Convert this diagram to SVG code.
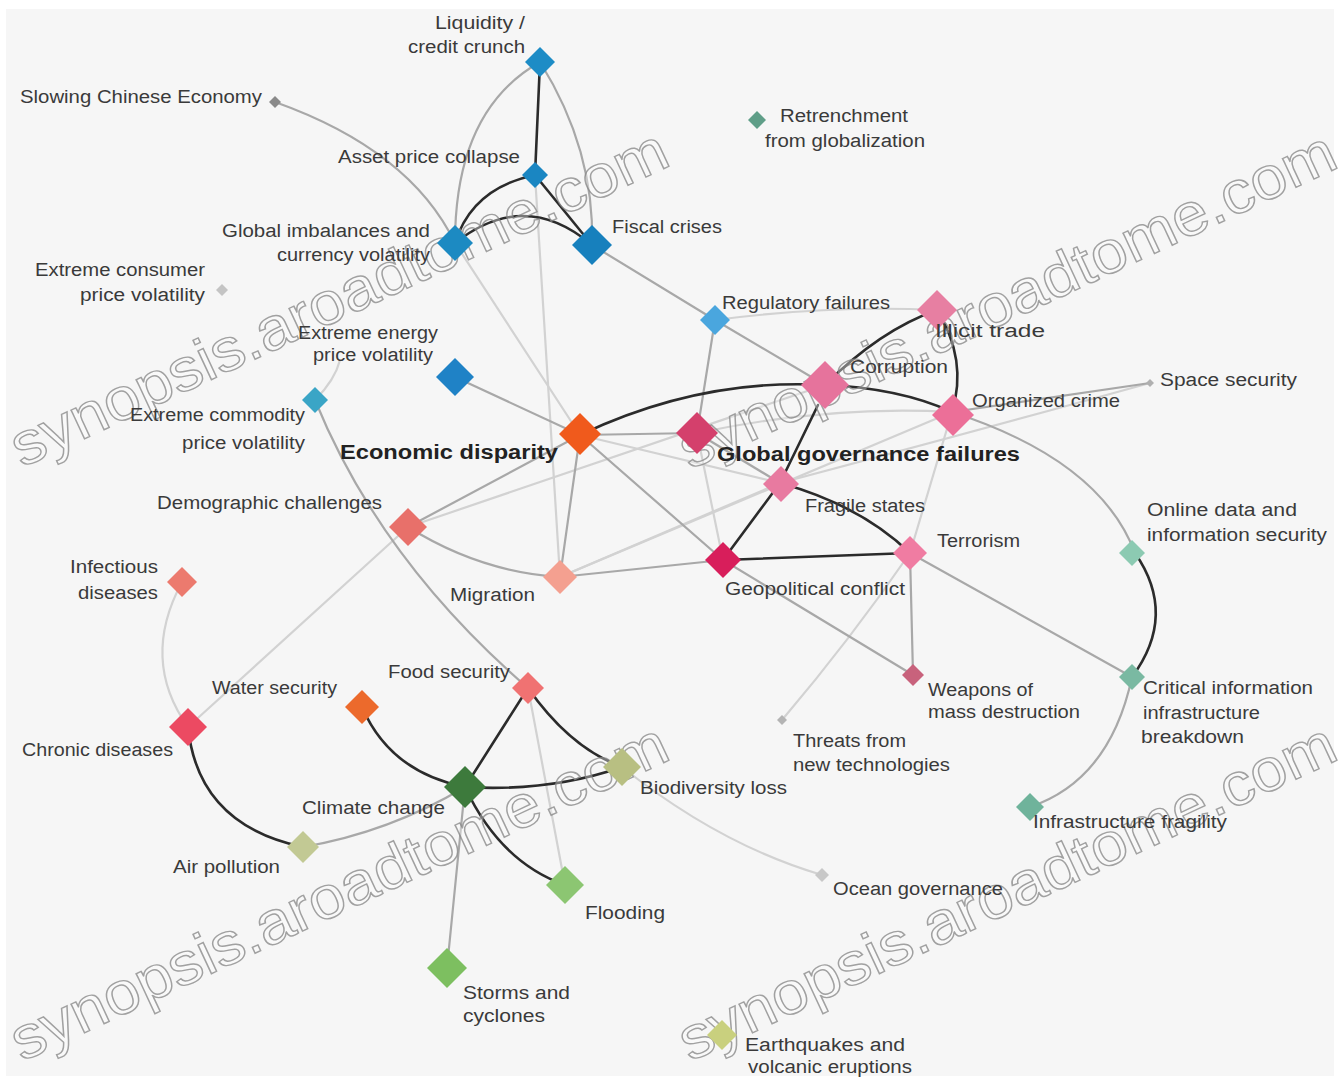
<svg xmlns="http://www.w3.org/2000/svg" xmlns:xlink="http://www.w3.org/1999/xlink" width="1339" height="1078" viewBox="0 0 1339 1078">
<defs>
<path id="d" d="M0,-1 L1,0 L0,1 L-1,0Z"/>
<style>
.lbl{font-family:"Liberation Sans",Arial,sans-serif;font-size:18px;fill:#3a3a3a}
.big{font-family:"Liberation Sans",Arial,sans-serif;font-size:20px;font-weight:bold;fill:#222}
.wm{font-family:"Liberation Sans",Arial,sans-serif;font-size:60px;fill:#ffffff;fill-opacity:.45;stroke:#8c8c8c;stroke-width:1.4;opacity:.8}
.e{fill:none;stroke-linecap:round}
.s{stroke:#2b2b2b;stroke-width:2.6}
.m{stroke:#a8a8a8;stroke-width:2.2}
.l{stroke:#d2d2d2;stroke-width:2.2}
</style>
</defs>
<rect x="0" y="0" width="1339" height="1078" fill="#ffffff"/>
<rect x="6" y="9" width="1328" height="1067" fill="#f6f6f6"/>

<g id="connectors" class="e">
<!-- light -->
<path class="l" d="M455,243 L580,435"/>
<path class="l" d="M535,175 L560,577"/>
<path class="l" d="M715,320 Q830,305 937,310"/>
<path class="l" d="M580,435 L780,483"/>
<path class="l" d="M560,577 L780,483"/>
<path class="l" d="M560,577 L952,412"/>
<path class="l" d="M408,527 L825,385"/>
<path class="l" d="M697,433 L723,560"/>
<path class="l" d="M697,433 Q830,405 952,412"/>
<path class="l" d="M780,483 Q980,430 1150,383"/>
<path class="l" d="M952,412 L910,553"/>
<path class="l" d="M910,553 Q850,640 782,720"/>
<path class="l" d="M182,582 Q140,660 188,727"/>
<path class="l" d="M188,727 L408,527"/>
<path class="l" d="M528,688 L565,885"/>
<path class="l" d="M622,767 Q720,845 822,875"/>
<path class="l" d="M315,400 Q335,380 340,360"/>
<!-- medium -->
<path class="m" d="M275,102 Q410,150 455,243"/>
<path class="m" d="M540,62 Q455,110 455,243"/>
<path class="m" d="M540,62 Q595,150 592,245"/>
<path class="m" d="M592,245 L715,320"/>
<path class="m" d="M455,377 L580,435"/>
<path class="m" d="M315,400 Q380,560 528,688"/>
<path class="m" d="M715,320 L697,433"/>
<path class="m" d="M715,320 L825,385"/>
<path class="m" d="M580,435 L697,433"/>
<path class="m" d="M580,435 L408,527"/>
<path class="m" d="M580,435 L560,577"/>
<path class="m" d="M580,435 L723,560"/>
<path class="m" d="M408,527 Q480,572 560,577"/>
<path class="m" d="M560,577 L723,560"/>
<path class="m" d="M697,433 L780,483"/>
<path class="m" d="M952,412 L1150,383"/>
<path class="m" d="M952,412 Q1100,460 1135,553"/>
<path class="m" d="M910,553 L1132,677"/>
<path class="m" d="M910,553 L913,675"/>
<path class="m" d="M723,560 L913,675"/>
<path class="m" d="M1132,677 Q1110,780 1030,807"/>
<path class="m" d="M465,787 Q390,832 303,847"/>
<path class="m" d="M465,787 L447,968"/>
<!-- strong -->
<path class="s" d="M540,62 L535,175"/>
<path class="s" d="M535,175 L592,245" stroke-width="3.6"/>
<path class="s" d="M455,243 Q472,188 535,175"/>
<path class="s" d="M455,243 Q525,188 592,245"/>
<path class="s" d="M580,435 Q700,378 825,385"/>
<path class="s" d="M825,385 Q900,388 952,412"/>
<path class="s" d="M825,385 Q880,330 937,310"/>
<path class="s" d="M937,310 Q968,360 952,412"/>
<path class="s" d="M818,405 L780,483"/>
<path class="s" d="M780,483 L723,560"/>
<path class="s" d="M780,483 Q860,505 910,553"/>
<path class="s" d="M723,560 L910,553"/>
<path class="s" d="M1135,553 Q1178,615 1132,677"/>
<path class="s" d="M528,688 L465,787"/>
<path class="s" d="M528,688 Q570,748 622,767"/>
<path class="s" d="M465,787 Q550,792 622,767"/>
<path class="s" d="M188,727 Q198,825 303,847"/>
<path class="s" d="M362,707 Q390,772 465,787"/>
<path class="s" d="M465,787 Q500,862 565,885" stroke-width="2"/>
</g>

<g id="watermark">
<text class="wm" x="22" y="468" textLength="718" lengthAdjust="spacingAndGlyphs" transform="rotate(-25 22 468)">synopsis.aroadtome.com</text>
<text class="wm" x="690" y="470" textLength="718" lengthAdjust="spacingAndGlyphs" transform="rotate(-25 690 470)">synopsis.aroadtome.com</text>
<text class="wm" x="22" y="1062" textLength="718" lengthAdjust="spacingAndGlyphs" transform="rotate(-25 22 1062)">synopsis.aroadtome.com</text>
<text class="wm" x="690" y="1062" textLength="718" lengthAdjust="spacingAndGlyphs" transform="rotate(-25 690 1062)">synopsis.aroadtome.com</text>
</g>

<g id="n-liquidity"><use href="#d" transform="translate(540,62) scale(15)" fill="#1d8cc6"/><text class="lbl" x="435" y="29" textLength="90" lengthAdjust="spacingAndGlyphs">Liquidity /</text><text class="lbl" x="408" y="53" textLength="117" lengthAdjust="spacingAndGlyphs">credit crunch</text></g>
<g id="n-chinese"><use href="#d" transform="translate(275,102) scale(6)" fill="#8a8a8a"/><text class="lbl" x="20" y="103" textLength="242" lengthAdjust="spacingAndGlyphs">Slowing Chinese Economy</text></g>
<g id="n-asset"><use href="#d" transform="translate(535,175) scale(13)" fill="#1a86c2"/><text class="lbl" x="338" y="163" textLength="182" lengthAdjust="spacingAndGlyphs">Asset price collapse</text></g>
<g id="n-imbalances"><use href="#d" transform="translate(455,243) scale(18)" fill="#1c8ac2"/><text class="lbl" x="222" y="237" textLength="208" lengthAdjust="spacingAndGlyphs">Global imbalances and</text><text class="lbl" x="277" y="261" textLength="153" lengthAdjust="spacingAndGlyphs">currency volatility</text></g>
<g id="n-fiscal"><use href="#d" transform="translate(592,245) scale(20)" fill="#1780bd"/><text class="lbl" x="612" y="233" textLength="110" lengthAdjust="spacingAndGlyphs">Fiscal crises</text></g>
<g id="n-consumer"><use href="#d" transform="translate(222,290) scale(6)" fill="#c4c4c4"/><text class="lbl" x="35" y="276" textLength="170" lengthAdjust="spacingAndGlyphs">Extreme consumer</text><text class="lbl" x="80" y="301" textLength="125" lengthAdjust="spacingAndGlyphs">price volatility</text></g>
<g id="n-retrenchment"><use href="#d" transform="translate(757,120) scale(9)" fill="#5f9e88"/><text class="lbl" x="780" y="122" textLength="128" lengthAdjust="spacingAndGlyphs">Retrenchment</text><text class="lbl" x="765" y="147" textLength="160" lengthAdjust="spacingAndGlyphs">from globalization</text></g>
<g id="n-regulatory"><use href="#d" transform="translate(715,320) scale(15)" fill="#4aa6de"/><text class="lbl" x="722" y="309" textLength="168" lengthAdjust="spacingAndGlyphs">Regulatory failures</text></g>
<g id="n-illicit"><use href="#d" transform="translate(937,310) scale(20)" fill="#e77fa2"/><text class="lbl" x="935" y="337" textLength="110" lengthAdjust="spacingAndGlyphs">Illicit trade</text></g>
<g id="n-corruption"><use href="#d" transform="translate(825,385) scale(24)" fill="#e6739c"/><text class="lbl" x="850" y="373" textLength="98" lengthAdjust="spacingAndGlyphs">Corruption</text></g>
<g id="n-organized"><use href="#d" transform="translate(953,415) scale(21)" fill="#ec6f98"/><text class="lbl" x="972" y="407" textLength="148" lengthAdjust="spacingAndGlyphs">Organized crime</text></g>
<g id="n-space"><use href="#d" transform="translate(1150,383) scale(4)" fill="#b0b0b0"/><text class="lbl" x="1160" y="386" textLength="137" lengthAdjust="spacingAndGlyphs">Space security</text></g>
<g id="n-energy"><use href="#d" transform="translate(455,377) scale(19)" fill="#1f82c6"/><text class="lbl" x="298" y="339" textLength="140" lengthAdjust="spacingAndGlyphs">Extreme energy</text><text class="lbl" x="313" y="361" textLength="120" lengthAdjust="spacingAndGlyphs">price volatility</text></g>
<g id="n-commodity"><use href="#d" transform="translate(315,400) scale(13)" fill="#3aa5c6"/><text class="lbl" x="130" y="421" textLength="175" lengthAdjust="spacingAndGlyphs">Extreme commodity</text><text class="lbl" x="182" y="449" textLength="123" lengthAdjust="spacingAndGlyphs">price volatility</text></g>
<g id="n-disparity"><use href="#d" transform="translate(580,434) scale(21)" fill="#f05a1c"/><text class="big" x="340" y="459" textLength="218" lengthAdjust="spacingAndGlyphs">Economic disparity</text></g>
<g id="n-governance"><use href="#d" transform="translate(697,433) scale(21)" fill="#d4406c"/><text class="big" x="717" y="461" textLength="303" lengthAdjust="spacingAndGlyphs">Global governance failures</text></g>
<g id="n-fragile"><use href="#d" transform="translate(781,484) scale(18)" fill="#e87aa0"/><text class="lbl" x="805" y="512" textLength="120" lengthAdjust="spacingAndGlyphs">Fragile states</text></g>
<g id="n-terrorism"><use href="#d" transform="translate(910,553) scale(17)" fill="#f07ca2"/><text class="lbl" x="937" y="547" textLength="83" lengthAdjust="spacingAndGlyphs">Terrorism</text></g>
<g id="n-geopolitical"><use href="#d" transform="translate(723,560) scale(18)" fill="#d81e5b"/><text class="lbl" x="725" y="595" textLength="180" lengthAdjust="spacingAndGlyphs">Geopolitical conflict</text></g>
<g id="n-demographic"><use href="#d" transform="translate(408,527) scale(19)" fill="#e8706a"/><text class="lbl" x="157" y="509" textLength="225" lengthAdjust="spacingAndGlyphs">Demographic challenges</text></g>
<g id="n-infectious"><use href="#d" transform="translate(182,582) scale(15)" fill="#ec7a6e"/><text class="lbl" x="70" y="573" textLength="88" lengthAdjust="spacingAndGlyphs">Infectious</text><text class="lbl" x="78" y="599" textLength="80" lengthAdjust="spacingAndGlyphs">diseases</text></g>
<g id="n-migration"><use href="#d" transform="translate(560,577) scale(17)" fill="#f4a090"/><text class="lbl" x="450" y="601" textLength="85" lengthAdjust="spacingAndGlyphs">Migration</text></g>
<g id="n-online"><use href="#d" transform="translate(1132,553) scale(13)" fill="#8ccab2"/><text class="lbl" x="1147" y="516" textLength="150" lengthAdjust="spacingAndGlyphs">Online data and</text><text class="lbl" x="1147" y="541" textLength="180" lengthAdjust="spacingAndGlyphs">information security</text></g>
<g id="n-critical"><use href="#d" transform="translate(1132,677) scale(13)" fill="#7ab9a2"/><text class="lbl" x="1143" y="694" textLength="170" lengthAdjust="spacingAndGlyphs">Critical information</text><text class="lbl" x="1143" y="719" textLength="117" lengthAdjust="spacingAndGlyphs">infrastructure</text><text class="lbl" x="1141" y="743" textLength="103" lengthAdjust="spacingAndGlyphs">breakdown</text></g>
<g id="n-wmd"><use href="#d" transform="translate(913,675) scale(11)" fill="#c8627c"/><text class="lbl" x="928" y="696" textLength="105" lengthAdjust="spacingAndGlyphs">Weapons of</text><text class="lbl" x="928" y="718" textLength="152" lengthAdjust="spacingAndGlyphs">mass destruction</text></g>
<g id="n-threats"><use href="#d" transform="translate(782,720) scale(5)" fill="#b4b4b4"/><text class="lbl" x="793" y="747" textLength="113" lengthAdjust="spacingAndGlyphs">Threats from</text><text class="lbl" x="793" y="771" textLength="157" lengthAdjust="spacingAndGlyphs">new technologies</text></g>
<g id="n-infrafragility"><use href="#d" transform="translate(1030,807) scale(14)" fill="#6fb39b"/><text class="lbl" x="1033" y="828" textLength="194" lengthAdjust="spacingAndGlyphs">Infrastructure fragility</text></g>
<g id="n-water"><use href="#d" transform="translate(362,707) scale(17)" fill="#ec6a2c"/><text class="lbl" x="212" y="694" textLength="125" lengthAdjust="spacingAndGlyphs">Water security</text></g>
<g id="n-food"><use href="#d" transform="translate(528,688) scale(16)" fill="#f07272"/><text class="lbl" x="388" y="678" textLength="122" lengthAdjust="spacingAndGlyphs">Food security</text></g>
<g id="n-chronic"><use href="#d" transform="translate(188,727) scale(19)" fill="#ec4a62"/><text class="lbl" x="22" y="756" textLength="151" lengthAdjust="spacingAndGlyphs">Chronic diseases</text></g>
<g id="n-climate"><use href="#d" transform="translate(465,787) scale(21)" fill="#3d7a3c"/><text class="lbl" x="302" y="814" textLength="143" lengthAdjust="spacingAndGlyphs">Climate change</text></g>
<g id="n-biodiversity"><use href="#d" transform="translate(622,767) scale(19)" fill="#b8bf82"/><text class="lbl" x="640" y="794" textLength="147" lengthAdjust="spacingAndGlyphs">Biodiversity loss</text></g>
<g id="n-air"><use href="#d" transform="translate(303,847) scale(16)" fill="#c2c994"/><text class="lbl" x="173" y="873" textLength="107" lengthAdjust="spacingAndGlyphs">Air pollution</text></g>
<g id="n-flooding"><use href="#d" transform="translate(565,885) scale(19)" fill="#8cc672"/><text class="lbl" x="585" y="919" textLength="80" lengthAdjust="spacingAndGlyphs">Flooding</text></g>
<g id="n-storms"><use href="#d" transform="translate(447,968) scale(20)" fill="#7dbf60"/><text class="lbl" x="463" y="999" textLength="107" lengthAdjust="spacingAndGlyphs">Storms and</text><text class="lbl" x="463" y="1022" textLength="82" lengthAdjust="spacingAndGlyphs">cyclones</text></g>
<g id="n-ocean"><use href="#d" transform="translate(822,875) scale(7)" fill="#c8c8c8"/><text class="lbl" x="833" y="895" textLength="170" lengthAdjust="spacingAndGlyphs">Ocean governance</text></g>
<g id="n-earthquakes"><use href="#d" transform="translate(722,1035) scale(15)" fill="#c9d07e"/><text class="lbl" x="745" y="1051" textLength="160" lengthAdjust="spacingAndGlyphs">Earthquakes and</text><text class="lbl" x="748" y="1073" textLength="164" lengthAdjust="spacingAndGlyphs">volcanic eruptions</text></g>
</svg>
